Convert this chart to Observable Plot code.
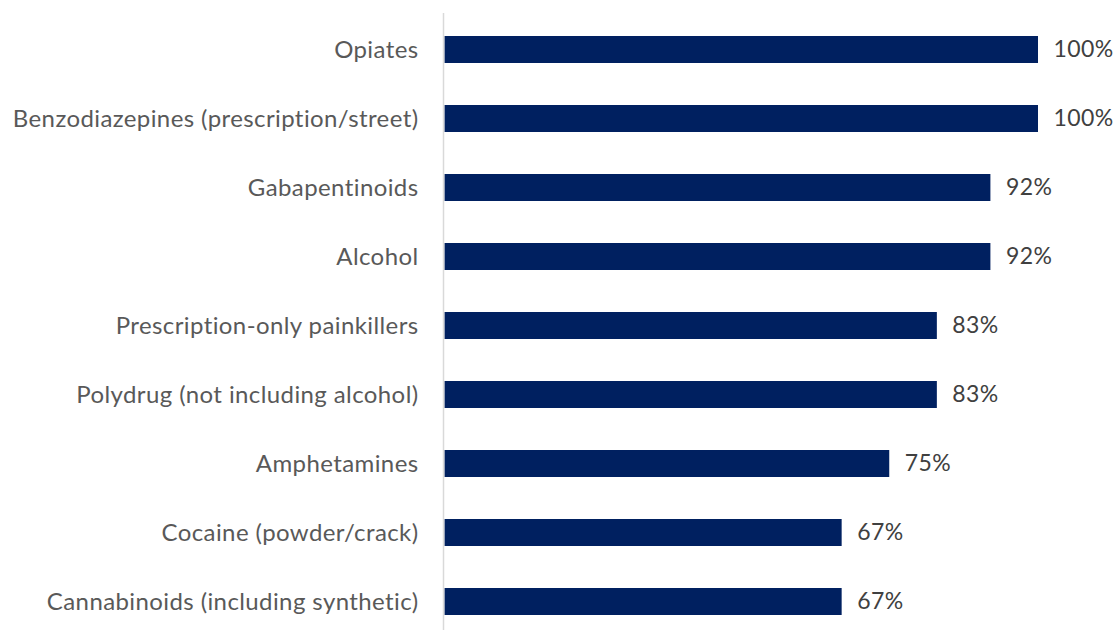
<!DOCTYPE html>
<html>
<head>
<meta charset="utf-8">
<script src="https://cdn.jsdelivr.net/npm/d3@7"></script>
<script src="https://cdn.jsdelivr.net/npm/@observablehq/plot@0.6"></script>
<style>
  html, body { margin: 0; padding: 0; background: #ffffff; overflow: hidden; }
  #chart svg { display: block; }
  #chart svg text { letter-spacing: 0.4px; font-variant-ligatures: none; }
</style>
</head>
<body>
<div id="chart"></div>
<script>
const categories = [
  "Opiates",
  "Benzodiazepines (prescription/street)",
  "Gabapentinoids",
  "Alcohol",
  "Prescription-only painkillers",
  "Polydrug (not including alcohol)",
  "Amphetamines",
  "Cocaine (powder/crack)",
  "Cannabinoids (including synthetic)"
];
const values = [100, 100, 92, 92, 83, 83, 75, 67, 67];
const valueLabels = ["100%", "100%", "92%", "92%", "83%", "83%", "75%", "67%", "67%"];

const data = categories.map((c, i) => ({category: c, value: values[i], label: valueLabels[i]}));

const font = "Lato, 'Open Sans', sans-serif";

const chart = Plot.plot({
  width: 1115,
  height: 630,
  marginLeft: 443,
  marginRight: 77,
  marginTop: 13,
  marginBottom: 0,
  style: {fontFamily: font, fontSize: "24px", background: "#ffffff"},
  x: {domain: [0, 100], axis: null},
  y: {domain: categories, range: [12, 638.5], paddingInner: 0.61, paddingOuter: 0.32, label: null},
  marks: [
    Plot.axisY({tickSize: 0, tickPadding: 25, fontSize: 24, color: "#595959", label: null}),
    Plot.barX(data, {x: "value", y: "category", fill: "#002060", insetLeft: 1.5}),
    Plot.ruleX([0], {stroke: "#d9d9d9", strokeWidth: 1.5}),
    Plot.text(data, {x: "value", y: "category", text: "label", textAnchor: "start", dx: 15, fill: "#404040", fontSize: 23})
  ]
});
document.getElementById("chart").appendChild(chart);
</script>
</body>
</html>
